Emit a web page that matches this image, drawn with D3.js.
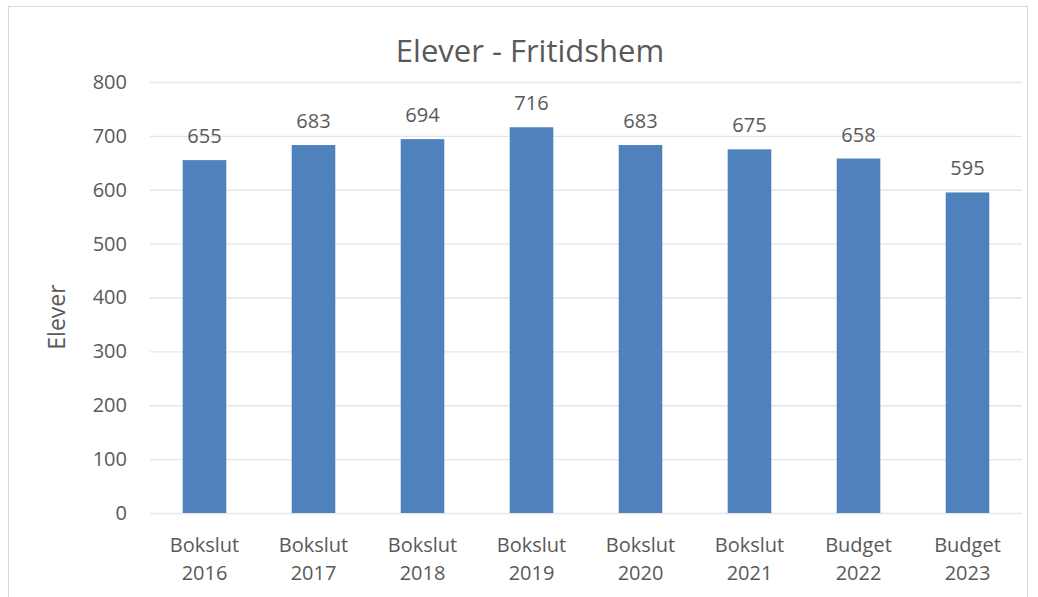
<!DOCTYPE html>
<html>
<head>
<meta charset="utf-8">
<script src="https://cdn.jsdelivr.net/npm/d3@7"></script>
<style>
  body { margin: 0; background: #fff; }
  text { font-family: "Open Sans", "Noto Sans", sans-serif; fill: #595959; }
</style>
</head>
<body>
<svg id="chart" width="1038" height="597"></svg>
<script>
const categories = ["Bokslut 2016", "Bokslut 2017", "Bokslut 2018", "Bokslut 2019",
  "Bokslut 2020", "Bokslut 2021", "Budget 2022", "Budget 2023"];
const values = [655, 683, 694, 716, 683, 675, 658, 595];
const yTicks = [0, 100, 200, 300, 400, 500, 600, 700, 800];
const BAR_COLOR = "#4f81bd";

const svg = d3.select("#chart");
const margin = { top: 82, right: 16, bottom: 84, left: 150 };
const innerW = 1022 - margin.left;
const innerH = 513 - margin.top;

// chart frame
svg.append("rect")
  .attr("x", 8.5).attr("y", 6.5)
  .attr("width", 1019).attr("height", 600)
  .attr("fill", "#fff").attr("stroke", "#d9d9d9");

const g = svg.append("g").attr("transform", `translate(${margin.left},${margin.top})`);

const x = d3.scaleBand().domain(categories).range([0, innerW]).paddingInner(0.6).paddingOuter(0.3);
const y = d3.scaleLinear().domain([0, 800]).range([innerH, 0]);

// gridlines
g.append("g")
  .selectAll("line")
  .data(yTicks)
  .join("line")
  .attr("x1", 0).attr("x2", innerW)
  .attr("y1", d => y(d) + 0.5).attr("y2", d => y(d) + 0.5)
  .attr("stroke", "#e6e6e6").attr("stroke-width", 1.3);

// y axis labels
const yAxis = g.append("g")
  .call(d3.axisLeft(y).tickValues(yTicks).tickSize(0).tickPadding(23));
yAxis.select(".domain").remove();
yAxis.selectAll("text")
  .attr("font-size", 20)
  .style("font-family", "\"Open Sans\", sans-serif")
  .attr("fill", "#595959");

// bars
g.selectAll("rect.bar")
  .data(values)
  .join("rect")
  .attr("class", "bar")
  .attr("x", (d, i) => x(categories[i]))
  .attr("y", d => y(d))
  .attr("width", x.bandwidth())
  .attr("height", d => innerH - y(d))
  .attr("fill", BAR_COLOR);

// data labels
g.selectAll("text.val")
  .data(values)
  .join("text")
  .attr("class", "val")
  .attr("x", (d, i) => x(categories[i]) + x.bandwidth() / 2)
  .attr("y", d => y(d) - 17)
  .attr("text-anchor", "middle")
  .attr("font-size", 20)
  .text(d => d);

// x labels (two lines)
const xl = g.selectAll("text.cat")
  .data(categories)
  .join("text")
  .attr("class", "cat")
  .attr("x", d => x(d) + x.bandwidth() / 2)
  .attr("y", innerH + 39)
  .attr("text-anchor", "middle")
  .attr("font-size", 20);
xl.each(function (d) {
  const parts = d.split(" ");
  const t = d3.select(this);
  parts.forEach((p, k) => {
    t.append("tspan")
      .attr("x", x(d) + x.bandwidth() / 2)
      .attr("dy", k === 0 ? 0 : 28)
      .text(p);
  });
});

// title
svg.append("text")
  .attr("x", 530).attr("y", 62)
  .attr("text-anchor", "middle")
  .attr("font-size", 31)
  .text("Elever - Fritidshem");

// y axis title
svg.append("text")
  .attr("transform", "translate(65,317) rotate(-90)")
  .attr("text-anchor", "middle")
  .attr("font-size", 23)
  .text("Elever");
</script>
</body>
</html>
